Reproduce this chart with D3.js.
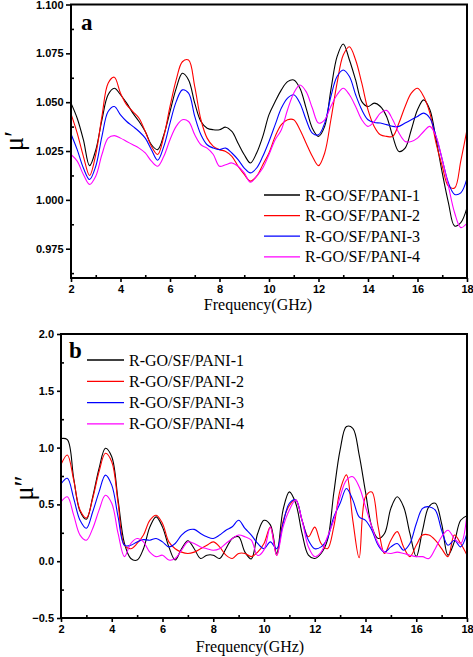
<!DOCTYPE html>
<html><head><meta charset="utf-8">
<script src="https://cdn.jsdelivr.net/npm/d3@7"></script>
<style>
html,body{margin:0;padding:0;background:#fff;}
svg{display:block;}
</style></head>
<body>
<svg id="chart" width="473" height="657"></svg>
<script>
// ---------- DATA ----------
const freq = [2,2.25,2.5,2.75,3,3.25,3.5,3.75,4,4.25,4.5,4.75,5,5.25,5.5,5.75,6,6.25,6.5,6.75,7,7.25,7.5,7.75,8,8.25,8.5,8.75,9,9.25,9.5,9.75,10,10.25,10.5,10.75,11,11.25,11.5,11.75,12,12.25,12.5,12.75,13,13.25,13.5,13.75,14,14.25,14.5,14.75,15,15.25,15.5,15.75,16,16.25,16.5,16.75,17,17.25,17.5,17.75,18];
const seriesNames = ["R-GO/SF/PANI-1","R-GO/SF/PANI-2","R-GO/SF/PANI-3","R-GO/SF/PANI-4"];
const seriesColors = ["#000000","#ff0000","#0000ff","#ff00ff"];

// panel a : mu'
const muReal1 = [1.0495,1.0418,1.0308,1.0175,1.0255,1.041,1.0538,1.0571,1.0538,1.0495,1.0444,1.0401,1.035,1.0282,1.0257,1.0333,1.0452,1.0571,1.0648,1.0614,1.0495,1.0401,1.0367,1.0359,1.0359,1.0372,1.035,1.029,1.0231,1.0189,1.024,1.0325,1.0436,1.0503,1.0563,1.0605,1.0614,1.0571,1.047,1.0367,1.0325,1.0376,1.0563,1.0733,1.0798,1.0716,1.0614,1.0503,1.0478,1.0495,1.0478,1.0427,1.0325,1.0248,1.0265,1.0359,1.0461,1.0512,1.0461,1.0308,1.0138,0.9985,0.9866,0.9883,0.996];
const muReal2 = [1.044,1.0342,1.0223,1.0125,1.0232,1.0427,1.0597,1.0628,1.0546,1.0486,1.0452,1.0418,1.035,1.0274,1.0232,1.0325,1.0478,1.0614,1.0707,1.0716,1.058,1.041,1.0316,1.0274,1.0257,1.0248,1.0223,1.0172,1.013,1.0096,1.0121,1.018,1.024,1.0325,1.0385,1.041,1.041,1.0359,1.029,1.0223,1.0175,1.024,1.041,1.0597,1.0741,1.0784,1.0716,1.0597,1.0461,1.0376,1.0333,1.0325,1.0325,1.0393,1.0478,1.0546,1.0571,1.0529,1.0444,1.029,1.0172,1.007,1.0061,1.02,1.036];
const muReal3 = [1.0337,1.0257,1.0163,1.0104,1.0172,1.0325,1.0452,1.0478,1.0435,1.0401,1.0376,1.035,1.0316,1.0257,1.0203,1.0274,1.0393,1.0503,1.0563,1.0546,1.0427,1.0333,1.0282,1.0265,1.0257,1.0265,1.024,1.0206,1.0163,1.0138,1.0163,1.0223,1.0299,1.0385,1.047,1.0521,1.0538,1.0495,1.041,1.0342,1.0333,1.0393,1.0529,1.0631,1.0665,1.0631,1.0538,1.0461,1.041,1.0396,1.0393,1.0385,1.0376,1.0376,1.0393,1.041,1.0427,1.0444,1.0418,1.0325,1.0206,1.0087,1.0028,1.0036,1.011];
const muReal4 = [1.0232,1.0198,1.013,1.0079,1.0121,1.0232,1.0316,1.0329,1.0316,1.0299,1.0282,1.0265,1.024,1.0198,1.0172,1.0223,1.0308,1.0376,1.041,1.0401,1.0333,1.0282,1.0265,1.0232,1.0172,1.018,1.0189,1.0172,1.0138,1.009,1.0121,1.0163,1.0232,1.0308,1.0359,1.0461,1.0546,1.0588,1.0554,1.047,1.0393,1.041,1.0478,1.0538,1.0571,1.0538,1.0478,1.041,1.0376,1.0401,1.0444,1.0458,1.041,1.0342,1.0299,1.0299,1.0316,1.035,1.0376,1.0325,1.0206,1.007,0.9934,0.9858,0.988];

// panel b : mu''
const muImag1 = [1.08,1.07,0.73,0.44,0.37,0.567,0.817,0.994,0.92,0.538,0.156,0.024,0.01,0.11,0.3,0.39,0.3,0.126,0.01,0.11,0.18,0.11,0.024,0.053,0.053,0.024,0.11,0.2,0.215,0.08,0.02,0.244,0.36,0.32,0.068,0.45,0.61,0.51,0.244,0.053,0.024,0.068,0.185,0.6,0.98,1.185,1.17,0.935,0.61,0.303,0.2,0.244,0.465,0.567,0.48,0.244,0.04,0.273,0.48,0.51,0.33,0.053,0.17,0.36,0.4];
const muImag2 = [0.85,0.935,0.714,0.45,0.38,0.553,0.788,0.95,0.876,0.51,0.14,0.11,0.156,0.23,0.36,0.405,0.332,0.17,0.11,0.08,0.068,0.08,0.11,0.14,0.17,0.126,0.053,0.024,0.068,0.068,0.04,0.08,0.156,0.3,0.05,0.35,0.49,0.54,0.36,0.215,0.3,0.156,0.11,0.303,0.626,0.76,0.36,0.03,0.567,0.61,0.303,0.068,0.185,0.26,0.126,0.04,0.14,0.23,0.23,0.185,0.11,0.04,0.23,0.156,0.053];
const muImag3 = [0.68,0.73,0.553,0.36,0.29,0.435,0.61,0.758,0.67,0.39,0.14,0.14,0.17,0.19,0.185,0.2,0.17,0.126,0.156,0.23,0.273,0.28,0.244,0.215,0.2,0.23,0.273,0.303,0.36,0.288,0.23,0.156,0.11,0.17,0.11,0.33,0.51,0.54,0.36,0.185,0.11,0.126,0.2,0.39,0.51,0.64,0.54,0.39,0.36,0.273,0.14,0.08,0.126,0.156,0.097,0.156,0.33,0.465,0.48,0.45,0.273,0.14,0.185,0.126,0.244];
const muImag4 = [0.523,0.567,0.405,0.23,0.185,0.288,0.45,0.58,0.51,0.244,0.04,0.156,0.2,0.17,0.08,0.04,0.053,0.01,0.024,0.097,0.17,0.156,0.126,0.11,0.097,0.11,0.156,0.2,0.23,0.215,0.185,0.05,0.1,0.3,0.05,0.3,0.45,0.54,0.36,0.126,0.04,0.08,0.215,0.36,0.567,0.714,0.744,0.655,0.48,0.303,0.156,0.08,0.068,0.08,0.068,0.053,0.04,0.04,0.024,0.11,0.215,0.273,0.2,0.156,0.42];

const xTicks = [2,4,6,8,10,12,14,16,18];
const xMinor = [3,5,7,9,11,13,15,17];
const yTicksA = [0.975,1.000,1.025,1.050,1.075,1.100];
const yMinorA = [0.9625,0.9875,1.0125,1.0375,1.0625,1.0875];
const yTicksB = [-0.5,0.0,0.5,1.0,1.5,2.0];
const yMinorB = [-0.25,0.25,0.75,1.25,1.75];

// ---------- DRAW ----------
const svg = d3.select("#chart");
const tickFont = "'Liberation Sans', Arial, sans-serif";
const serif = "'Liberation Serif', 'Times New Roman', serif";

function panel(cfg) {
  const x = d3.scaleLinear().domain([2,18]).range([cfg.left, cfg.right]);
  const y = d3.scaleLinear().domain(cfg.yDomain).range([cfg.bottom, cfg.top]);
  const g = svg.append("g");
  const clipId = "clip" + cfg.id;
  svg.append("clipPath").attr("id", clipId).append("rect")
    .attr("x", cfg.left).attr("y", cfg.top)
    .attr("width", cfg.right - cfg.left).attr("height", cfg.bottom - cfg.top);

  const line = d3.line().x((d,i)=>x(freq[i])).y(d=>y(d)).curve(d3.curveCatmullRom.alpha(0.5));
  const lines = g.append("g").attr("clip-path", `url(#${clipId})`);
  cfg.series.forEach((s,k)=>{
    lines.append("path").datum(s).attr("d", line)
      .attr("fill","none").attr("stroke", seriesColors[k]).attr("stroke-width",1.1)
      .attr("stroke-linejoin","round");
  });

  // axes
  const xAx = g.append("g").attr("transform",`translate(0,${cfg.bottom})`)
    .call(d3.axisBottom(x).tickValues(xTicks).tickSize(4).tickPadding(3.5).tickFormat(d3.format("d")));
  const xAxMin = g.append("g").attr("transform",`translate(0,${cfg.bottom})`)
    .call(d3.axisBottom(x).tickValues(xMinor).tickSize(-3).tickFormat(""));
  const yAx = g.append("g").attr("transform",`translate(${cfg.left},0)`)
    .call(d3.axisLeft(y).tickValues(cfg.yTicks).tickSize(cfg.yTickSize).tickPadding(cfg.yPad).tickFormat(d3.format(cfg.yFmt)));
  const yAxMin = g.append("g").attr("transform",`translate(${cfg.left},0)`)
    .call(d3.axisLeft(y).tickValues(cfg.yMinor).tickSize(-3).tickFormat(""));
  [xAx,xAxMin,yAx,yAxMin].forEach(a=>{
    a.select(".domain").remove();
    a.selectAll("line").attr("stroke","#000").attr("stroke-width",1.6);
    a.selectAll("text").attr("font-family",tickFont).attr("font-weight","bold").attr("font-size",11).attr("fill","#000");
  });

  // frame
  g.append("rect").attr("x",cfg.left).attr("y",cfg.top)
    .attr("width",cfg.right-cfg.left).attr("height",cfg.bottom-cfg.top)
    .attr("fill","none").attr("stroke","#000").attr("stroke-width",2);

  // panel letter
  g.append("text").attr("x",cfg.letterX).attr("y",cfg.letterY).text(cfg.letter)
    .attr("font-family",serif).attr("font-weight","bold").attr("font-size",23);

  // x title
  g.append("text").attr("x",cfg.xTitleX).attr("y",cfg.xTitleY).attr("text-anchor","middle")
    .attr("font-family",serif).attr("font-size",16).text("Frequency(GHz)");

  // y title
  g.append("text").attr("transform",`translate(${cfg.yTitleX},${cfg.yTitleY}) rotate(-90)`)
    .attr("text-anchor","middle").attr("font-family",serif).attr("font-size",27).text(cfg.yTitle);

  // legend
  seriesNames.forEach((n,k)=>{
    const ly = cfg.legY + k*cfg.legStep;
    g.append("line").attr("x1",cfg.legX1).attr("x2",cfg.legX2).attr("y1",ly).attr("y2",ly)
      .attr("stroke",seriesColors[k]).attr("stroke-width",1.3);
    g.append("text").attr("x",cfg.legTX).attr("y",ly+5.5).text(n)
      .attr("font-family",serif).attr("font-size",16).attr("fill","#000");
  });
}

panel({id:"a", left:71, right:467, top:4.5, bottom:278, yDomain:[0.96,1.10],
  series:[muReal1,muReal2,muReal3,muReal4], yTicks:yTicksA, yMinor:yMinorA,
  yTickSize:5, yPad:2.5, yFmt:".3f", letter:"a", letterX:81, letterY:29.5,
  xTitleX:258, xTitleY:310, yTitle:"μ′", yTitleX:23, yTitleY:141,
  legY:195, legStep:20.6, legX1:264, legX2:300, legTX:305});

panel({id:"b", left:61, right:467, top:334, bottom:618, yDomain:[-0.5,2.0],
  series:[muImag1,muImag2,muImag3,muImag4], yTicks:yTicksB, yMinor:yMinorB,
  yTickSize:4, yPad:3, yFmt:".1f", letter:"b", letterX:69, letterY:357.5,
  xTitleX:250, xTitleY:652, yTitle:"μ″", yTitleX:33, yTitleY:488,
  legY:360, legStep:21.3, legX1:87, legX2:124, legTX:129});
</script>
</body></html>
